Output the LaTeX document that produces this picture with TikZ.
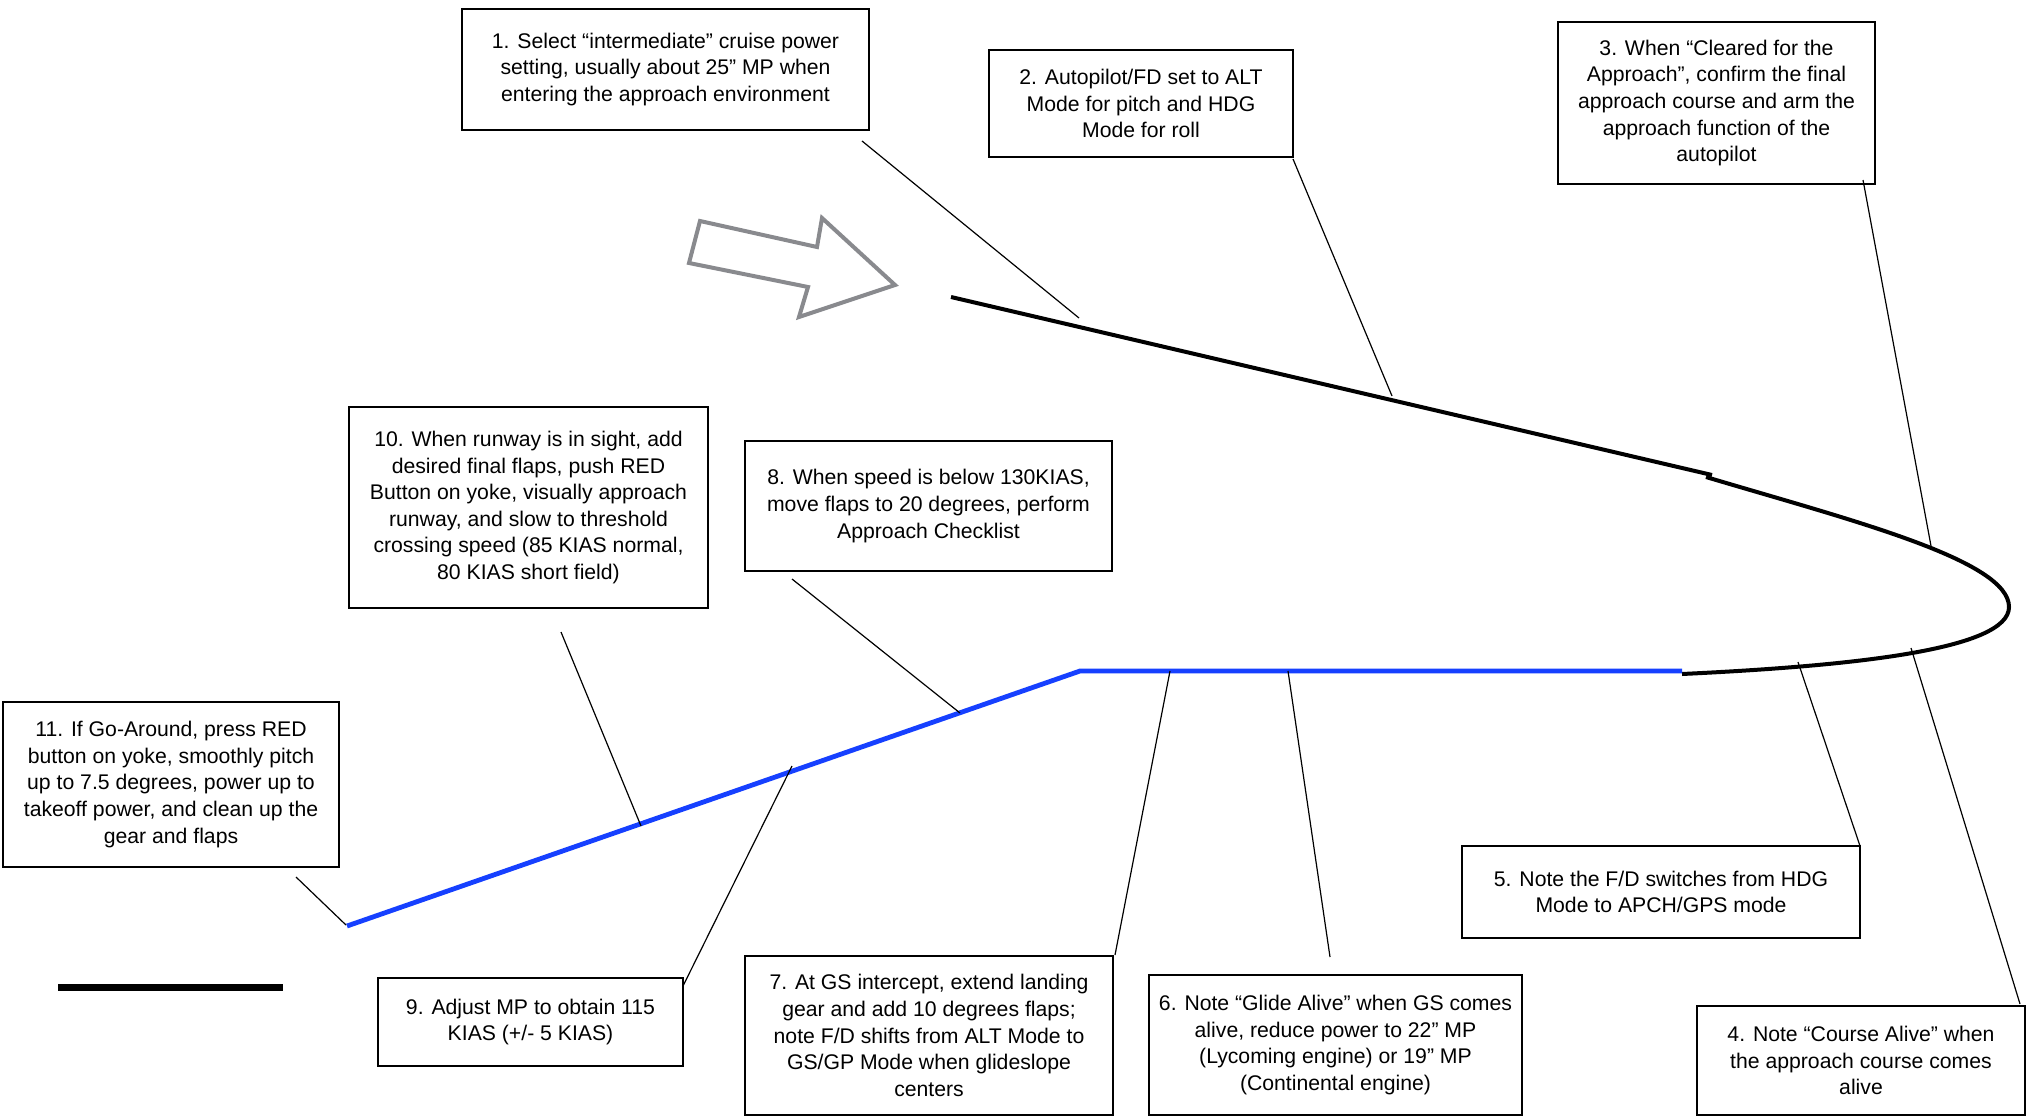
\documentclass[tikz,border=0pt]{standalone}
\usepackage{fontspec}
\setmainfont{Liberation Sans}
\definecolor{apblue}{RGB}{22,64,255}
\definecolor{arrowgray}{RGB}{137,138,142}
\begin{document}
\begin{tikzpicture}[x=0.5pt,y=-0.5pt,
  stepbox/.style={draw, line width=1.4pt, align=center, inner sep=0pt,
    font=\fontsize{10.6}{13.3}\selectfont},
  boxwh/.style 2 args={minimum width={#1*0.5pt}, minimum height={#2*0.5pt}},
  lead/.style={line width=0.6pt},
  flightblack/.style={line width=2pt, line cap=butt},
  flightblue/.style={line width=2.4pt, draw=apblue, line join=miter},
  bigarrow/.style={draw=arrowgray, line width=2pt, line join=miter},
  runway/.style={line width=3.5pt}]
\useasboundingbox (0,0) rectangle (2028,1119);
\fill[white] (0,0) rectangle (2028,1119);

% boxes
\node[stepbox, boxwh={407}{121}] (b1) at (665.5,69.5) {1. Select “intermediate” cruise power\\setting, usually about 25” MP when\\entering the approach environment};
\node[stepbox, boxwh={304}{107}] (b2) at (1141,103.5) {2. Autopilot/FD set to ALT\\Mode for pitch and HDG\\Mode for roll};
\node[stepbox, boxwh={317}{162}] (b3) at (1716.5,103) {3. When “Cleared for the\\Approach”, confirm the final\\approach course and arm the\\approach function of the\\autopilot};
\node[stepbox, boxwh={359}{201}] (b10) at (528.5,507.5) {10. When runway is in sight, add\\desired final flaps, push RED\\Button on yoke, visually approach\\runway, and slow to threshold\\crossing speed (85 KIAS normal,\\80 KIAS short field)};
\node[stepbox, boxwh={367}{130}] (b8) at (928.5,506) {8. When speed is below 130KIAS,\\move flaps to 20 degrees, perform\\Approach Checklist};
\node[stepbox, boxwh={336}{165}] (b11) at (171,784.5) {11. If Go-Around, press RED\\button on yoke, smoothly pitch\\up to 7.5 degrees, power up to\\takeoff power, and clean up the\\gear and flaps};
\node[stepbox, boxwh={398}{92}] (b5) at (1661,892) {5. Note the F/D switches from HDG\\Mode to APCH/GPS mode};
\node[stepbox, boxwh={305}{88}] (b9) at (530.5,1022) {9. Adjust MP to obtain 115\\KIAS (+/- 5 KIAS)};
\node[stepbox, boxwh={368}{159}] (b7) at (929,1035.5) {7. At GS intercept, extend landing\\gear and add 10 degrees flaps;\\note F/D shifts from ALT Mode to\\GS/GP Mode when glideslope\\centers};
\node[stepbox, boxwh={373}{140}] (b6) at (1335.5,1045) {6. Note “Glide Alive” when GS comes\\alive, reduce power to 22” MP\\(Lycoming engine) or 19” MP\\(Continental engine)};
\node[stepbox, boxwh={328}{109}] (b4) at (1861,1060.5) {4. Note “Course Alive” when\\the approach course comes\\alive};

% flight path
\coordinate (p1) at (951,297);
\coordinate (p2) at (1712,475);
\coordinate (q0) at (1706,477);
\coordinate (q1) at (2009,607);
\coordinate (q2) at (1682,674);
\coordinate (u0) at (347,926);
\coordinate (u1) at (1080,671);
\coordinate (u2) at (1682,671);
\draw[flightblack] (p1) -- (p2);
\draw[flightblack] (q0) .. controls (1850,520) and (2009,560) .. (q1)
  .. controls (2009,650) and (1850,666) .. (q2);
\draw[flightblue] (u0) -- (u1) -- (u2);

% runway
\coordinate (r0) at (58,987);
\coordinate (r1) at (283,987);
\draw[runway] (r0) -- (r1);

% big hollow arrow
\draw[bigarrow] (700,221) -- (817,247) -- (822,218) -- (895,285) -- (799,317) -- (808,287) -- (689,263) -- cycle;

% leader lines
\coordinate (s1) at (862,141);   \coordinate (e1) at (1079,318);
\coordinate (s2) at (1293,159);  \coordinate (e2) at (1392,396);
\coordinate (s3) at (1863,180);  \coordinate (e3) at (1931,546);
\coordinate (s10) at (561,632);  \coordinate (e10) at (641,826);
\coordinate (s8) at (792,579);   \coordinate (e8) at (960,713);
\coordinate (s11) at (296,877);  \coordinate (e11) at (346,925);
\coordinate (s9) at (683,986);   \coordinate (e9) at (792,766);
\coordinate (s7) at (1115,955);  \coordinate (e7) at (1170,671);
\coordinate (s6) at (1330,957);  \coordinate (e6) at (1288,671);
\coordinate (s5) at (1860,846);  \coordinate (e5) at (1798,662);
\coordinate (s4) at (2020,1004); \coordinate (e4) at (1911,648);
\foreach \i in {1,2,3,10,8,11,9,7,6,5,4}{\draw[lead] (s\i) -- (e\i);}
\end{tikzpicture}
\end{document}
